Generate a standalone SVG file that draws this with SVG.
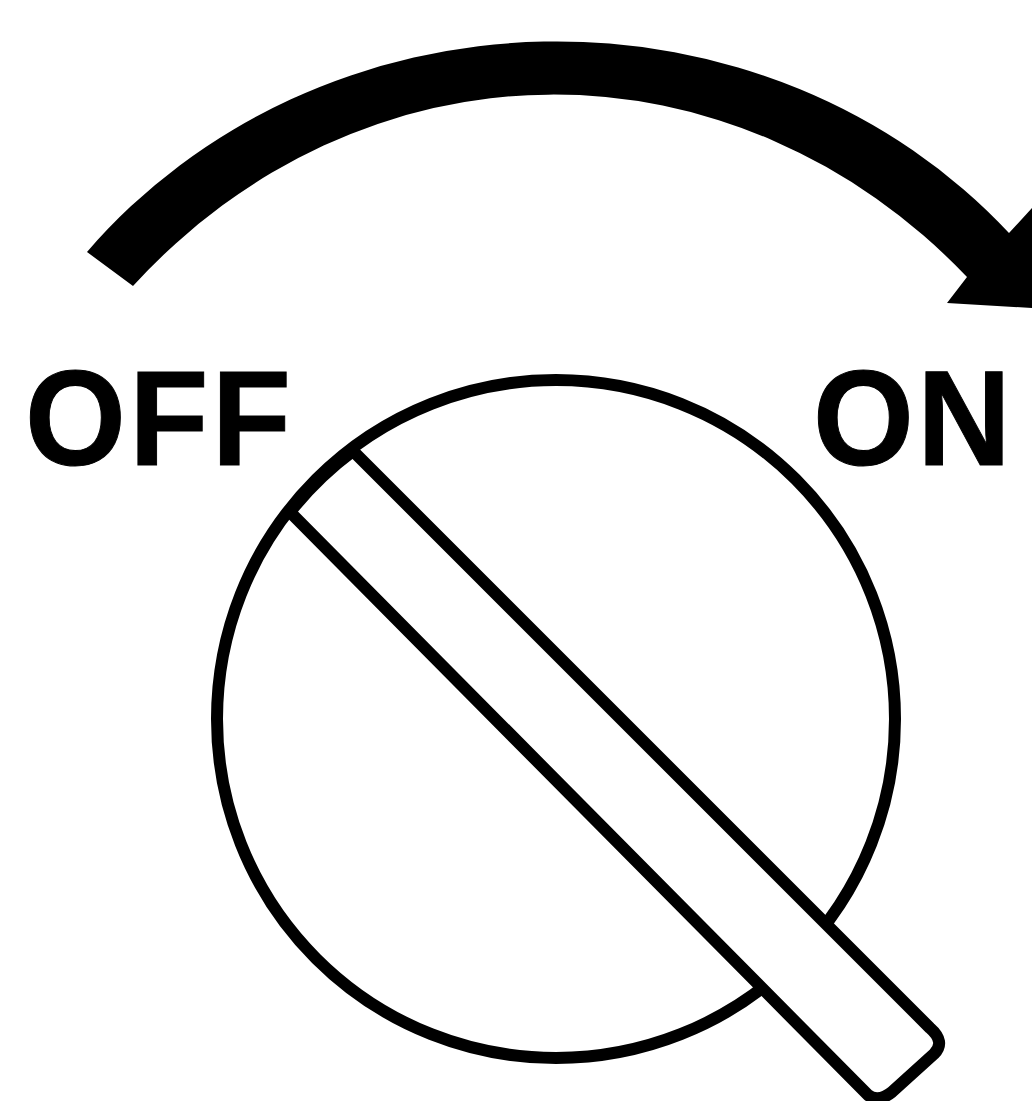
<svg xmlns="http://www.w3.org/2000/svg" width="1032" height="1101" viewBox="0 0 1032 1101">
<style>
.l{font-family:"Liberation Sans",Arial,sans-serif;font-weight:700;font-size:135px;fill:#000;stroke:#000;stroke-width:1;letter-spacing:3.5px}
.s{fill:#fff;stroke:#000;stroke-width:12}
.a{fill:none;stroke:#000;stroke-width:12}
</style>
<rect width="1032" height="1101" fill="#fff"/>
<g id="connectors">
<path id="arrow" d="M87 252A600 558 -1.2 0 1 1009 233L1032 208L1032 308L947 303L967 277A600 665 -0.6 0 0 133 286Z" fill="#000"/>
</g>
<g id="off"><text class="l" transform="translate(25 465) scale(.96 1)">OFF</text></g>
<g id="on"><text class="l" transform="translate(813 465) scale(.96 1)">ON</text></g>
<g id="dial">
<circle class="a" cx="556" cy="719" r="339"/>
<path class="s" d="M353 451L930 1028Q946 1042 934 1054L892 1092Q878 1103 868 1095L290 512"/>
<path class="a" d="M290 512A339 339 0 0 1 353 451"/>
</g>
</svg>
